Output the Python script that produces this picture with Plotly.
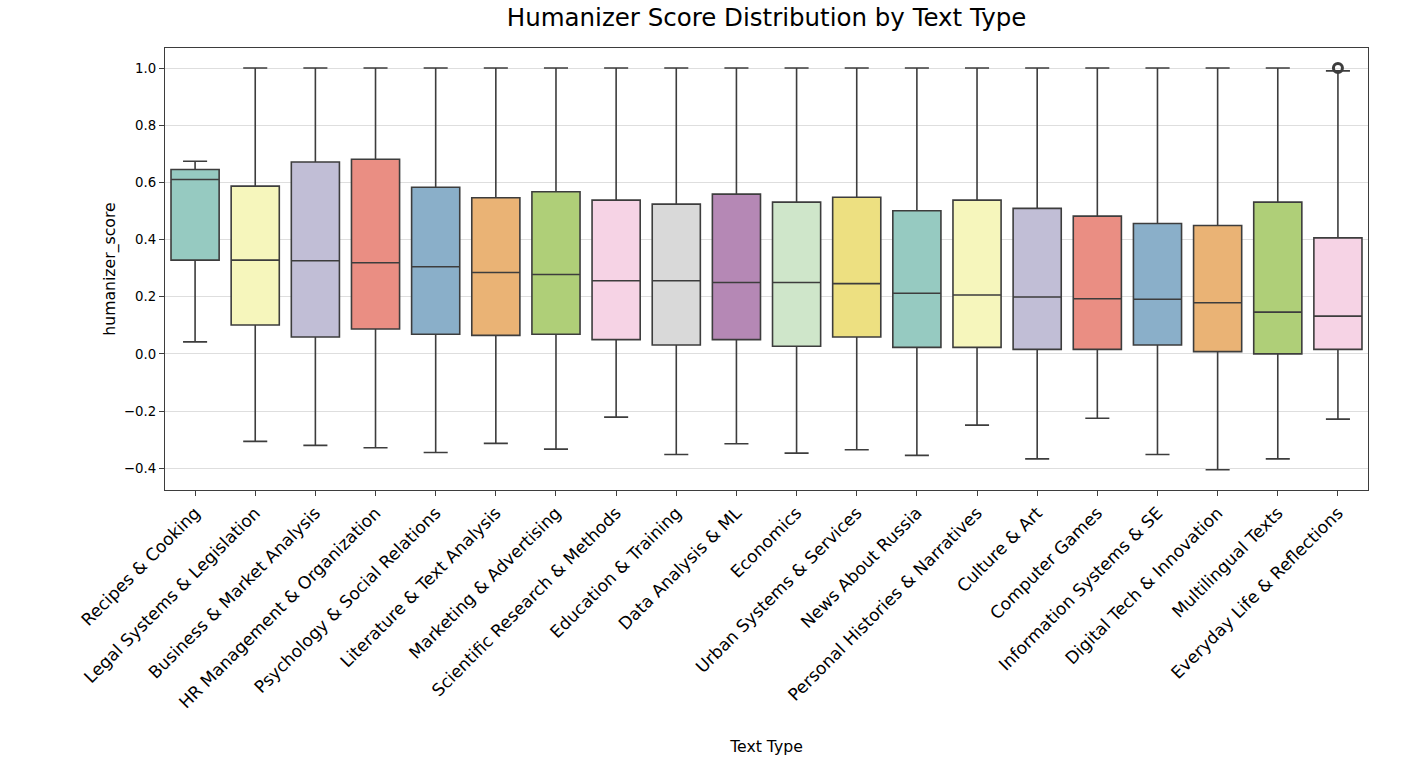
import colorsys
import plotly.graph_objects as go

categories = [
    "Recipes & Cooking", "Legal Systems & Legislation", "Business & Market Analysis",
    "HR Management & Organization", "Psychology & Social Relations", "Literature & Text Analysis",
    "Marketing & Advertising", "Scientific Research & Methods", "Education & Training",
    "Data Analysis & ML", "Economics", "Urban Systems & Services", "News About Russia",
    "Personal Histories & Narratives", "Culture & Art", "Computer Games",
    "Information Systems & SE", "Digital Tech & Innovation", "Multilingual Texts",
    "Everyday Life & Reflections",
]
q1 = [0.328, 0.101, 0.059, 0.087, 0.069, 0.065, 0.069, 0.050, 0.031, 0.050,
      0.027, 0.059, 0.023, 0.023, 0.016, 0.016, 0.031, 0.008, 0.000, 0.016]
median = [0.610, 0.328, 0.326, 0.319, 0.305, 0.285, 0.278, 0.256, 0.256, 0.250,
          0.250, 0.246, 0.212, 0.206, 0.199, 0.193, 0.191, 0.179, 0.146, 0.132]
q3 = [0.645, 0.587, 0.671, 0.681, 0.583, 0.546, 0.567, 0.538, 0.524, 0.559,
      0.531, 0.548, 0.501, 0.538, 0.509, 0.482, 0.456, 0.449, 0.531, 0.406]
lower = [0.042, -0.306, -0.320, -0.328, -0.345, -0.313, -0.333, -0.221, -0.352, -0.314,
         -0.347, -0.335, -0.355, -0.249, -0.367, -0.225, -0.352, -0.405, -0.367, -0.228]
upper = [0.674, 1.0, 1.0, 1.0, 1.0, 1.0, 1.0, 1.0, 1.0, 1.0,
         1.0, 1.0, 1.0, 1.0, 1.0, 1.0, 1.0, 1.0, 1.0, 0.99]
outlier_cats = ["Everyday Life & Reflections"]
outlier_vals = [1.0]

set3 = ["#8dd3c7", "#ffffb3", "#bebada", "#fb8072", "#80b1d3", "#fdb462",
        "#b3de69", "#fccde5", "#d9d9d9", "#bc80bd", "#ccebc5", "#ffed6f"]


def desat(hexc, f=0.75):
    r, g, b = (int(hexc[i:i + 2], 16) / 255 for i in (1, 3, 5))
    h, l, s = colorsys.rgb_to_hls(r, g, b)
    r, g, b = colorsys.hls_to_rgb(h, l, s * f)
    return "#%02x%02x%02x" % (round(r * 255), round(g * 255), round(b * 255))


LINE = "#3d3d3d"
FONT = "DejaVu Sans"

fig = go.Figure()
for i, cat in enumerate(categories):
    fig.add_trace(go.Box(
        x=[cat], q1=[q1[i]], median=[median[i]], q3=[q3[i]],
        lowerfence=[lower[i]], upperfence=[upper[i]],
        fillcolor=desat(set3[i % len(set3)]),
        line=dict(color=LINE, width=1.6),
        width=0.8, whiskerwidth=0.5, boxpoints=False,
        showlegend=False, name=cat,
    ))

fig.add_trace(go.Scatter(
    x=outlier_cats, y=outlier_vals, mode="markers",
    marker=dict(symbol="circle-open", size=9, color=LINE, line=dict(width=3, color=LINE)),
    showlegend=False,
))

fig.update_layout(
    width=1407, height=768,
    template="none",
    paper_bgcolor="white", plot_bgcolor="white",
    margin=dict(l=165, r=39, t=48, b=278),
    boxmode="overlay",
    font=dict(family=FONT, color="black"),
    title=dict(text="Humanizer Score Distribution by Text Type",
               x=0.5, xref="paper", xanchor="center",
               y=1 - 17 / 768, yref="container", yanchor="middle",
               font=dict(size=24.5, family=FONT, color="black")),
)
fig.update_xaxes(
    type="category", categoryorder="array", categoryarray=categories,
    range=[-0.5, len(categories) - 0.5],
    tickangle=-45, tickfont=dict(size=17.1, family=FONT, color="black"),
    ticks="outside", ticklen=5, tickwidth=1.3, tickcolor=LINE,
    showline=True, linecolor=LINE, linewidth=1.4, mirror=True,
    showgrid=False, zeroline=False, automargin=False,
    title=dict(text="Text Type", font=dict(size=15.7, family=FONT, color="black"), standoff=29),
)
fig.update_yaxes(
    range=[-0.476, 1.070],
    tickvals=[-0.4, -0.2, 0.0, 0.2, 0.4, 0.6, 0.8, 1.0], tickformat=".1f",
    tickfont=dict(size=13.3, family=FONT, color="black"),
    ticks="outside", ticklen=5, tickwidth=1.3, tickcolor=LINE,
    showline=True, linecolor=LINE, linewidth=1.4, mirror=True,
    showgrid=True, gridcolor="#dedede", gridwidth=1, zeroline=False, automargin=False,
    title=dict(text="humanizer_score", font=dict(size=15.7, family=FONT, color="black"), standoff=4),
)

fig.write_html("out.html", config={"displayModeBar": False},
               post_script="document.body.style.margin='0';")
